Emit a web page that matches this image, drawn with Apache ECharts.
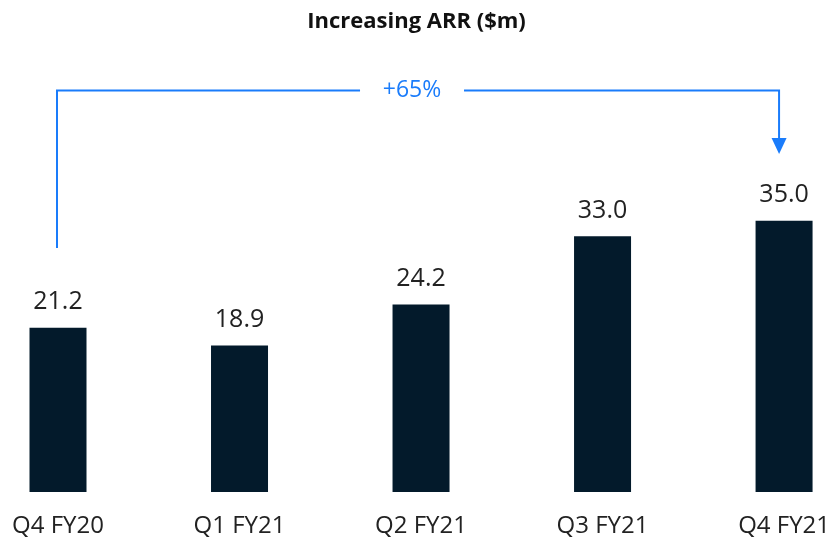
<!DOCTYPE html>
<html>
<head>
<meta charset="utf-8">
<script src="https://cdn.jsdelivr.net/npm/echarts@6/dist/echarts.min.js"></script>
<style>
html,body{margin:0;padding:0;background:#fff;}
#c{width:833px;height:543px;}
</style>
</head>
<body>
<div id="c"></div>
<script>
var categories = ['Q4 FY20', 'Q1 FY21', 'Q2 FY21', 'Q3 FY21', 'Q4 FY21'];
var arrValues = [21.2, 18.9, 24.2, 33.0, 35.0];
var growthLabel = '+65%';
// bracket annotation levels (in $m on the value axis)
var bracketTop = 51.8;
var bracketLeftBottom = 31.5;
var bracketArrowTip = 43.6;

var FONT = '"Open Sans", "Noto Sans", sans-serif';
var BLUE = '#1a7cfb';

var chart = echarts.init(document.getElementById('c'), null, {renderer: 'canvas'});
var option = {
  animation: false,
  title: {
    text: 'Increasing ARR ($m)',
    left: 'center',
    top: 6,
    textStyle: {fontFamily: FONT, fontSize: 22, fontWeight: 'bold', color: '#111'}
  },
  grid: {left: 58, right: 47, top: 27, bottom: 51, containLabel: false},
  xAxis: {
    type: 'category',
    data: categories,
    boundaryGap: false,
    axisLine: {show: false},
    axisTick: {show: false},
    axisLabel: {fontFamily: FONT, fontSize: 24, color: '#222', margin: 22}
  },
  yAxis: {
    type: 'value',
    min: 0, max: 60,
    show: false,
    splitLine: {show: false}
  },
  series: [{
    type: 'bar',
    data: arrValues,
    barWidth: 57,
    clip: false,
    itemStyle: {color: '#031a2b'},
    label: {
      show: true,
      position: 'top',
      distance: 13,
      fontFamily: FONT,
      fontSize: 25,
      color: '#222',
      formatter: function (p) { return p.value.toFixed(1); }
    }
  }]
};
chart.setOption(option);

function drawBracket() {
  var pL = chart.convertToPixel({xAxisIndex: 0, yAxisIndex: 0}, [0, bracketLeftBottom]);
  var pT = chart.convertToPixel({xAxisIndex: 0, yAxisIndex: 0}, [0, bracketTop]);
  var pR = chart.convertToPixel({xAxisIndex: 0, yAxisIndex: 0}, [categories.length - 1, bracketArrowTip]);
  var xL = pL[0] - 1, xR = pR[0] - 5;
  var yT = pT[1], yLB = pL[1], yTip = pR[1];
  var cx = (xL + xR) / 2 - 6;
  var gap = 52;
  var arrowH = 16, arrowW = 15;
  chart.setOption({
    graphic: [
      {type: 'polyline', shape: {points: [[xL, yLB], [xL, yT], [cx - gap, yT]]},
       style: {stroke: BLUE, lineWidth: 2, fill: null}},
      {type: 'polyline', shape: {points: [[cx + gap, yT], [xR, yT], [xR, yTip - arrowH + 1]]},
       style: {stroke: BLUE, lineWidth: 2, fill: null}},
      {type: 'polygon', shape: {points: [[xR - arrowW / 2, yTip - arrowH], [xR + arrowW / 2, yTip - arrowH], [xR, yTip]]},
       style: {fill: BLUE}},
      {type: 'text', x: cx, y: yT, style: {text: growthLabel, fill: BLUE, font: '23px ' + FONT,
       textAlign: 'center', textVerticalAlign: 'middle'}}
    ]
  });
}
drawBracket();
</script>
</body>
</html>
